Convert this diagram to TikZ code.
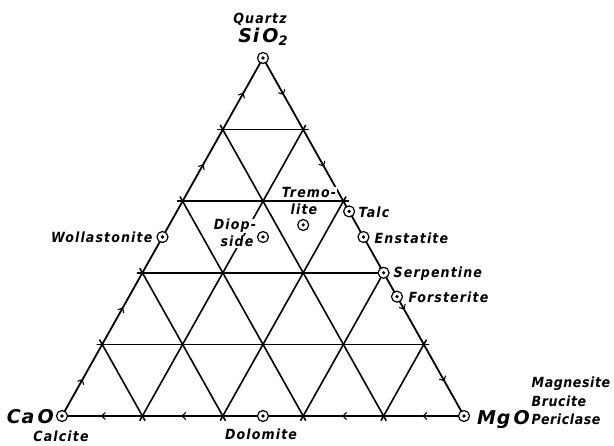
\documentclass[tikz,border=0pt]{standalone}
\usepackage{fontspec}
\setmainfont{DejaVu Sans}
\newfontfamily\labfont{DejaVu Sans Condensed Bold Oblique}[LetterSpace=8]
\newfontfamily\labfontb{DejaVu Sans Condensed Bold Oblique}[LetterSpace=4]
\newfontfamily\bigfont{DejaVu Sans Bold Oblique}[LetterSpace=4]
\usetikzlibrary{calc,decorations.markings}
\tikzset{
  gridline/.style={line width=1.6pt, line cap=round},
  sideline/.style={line width=1.8pt, line join=round},
  chev/.style={postaction={decorate, decoration={markings,
      mark=at position 0.5 with {\draw[line width=1.1pt] (-3.2pt,3.5pt) -- (0.6pt,0pt) -- (-3.2pt,-3.5pt);}}}},
  mineral/.style={circle, draw, line width=1.2pt, fill=white, minimum size=11pt, inner sep=0pt,
      label={[circle, fill=black, inner sep=0pt, minimum size=3.6pt]center:{}}},
  lab/.style={font=\labfont\fontsize{14}{16}\selectfont, inner sep=0.5pt, anchor=base west},
  labr/.style={font=\labfontb\fontsize{14}{16}\selectfont, inner sep=0.5pt, anchor=base west},
  big/.style={font=\bigfont\fontsize{19}{21}\selectfont, inner sep=0pt, anchor=base},
}
\begin{document}
\begin{tikzpicture}[x=1pt,y=-1pt]
\useasboundingbox (0,0) rectangle (614,446);
\coordinate (A) at (263,58);
\coordinate (C) at (62,416);
\coordinate (M) at (464,416);
\foreach \k in {1,...,4} {
  \coordinate (L\k) at ($(C)!{\k/5}!(A)$);
  \coordinate (R\k) at ($(M)!{\k/5}!(A)$);
  \coordinate (B\k) at ($(C)!{\k/5}!(M)$);
}
% grid
\foreach \k in {1,...,4} {
  \pgfmathtruncatemacro\j{5-\k}
  \draw[gridline] ($(L\k)!-5pt!(R\k)$) -- ($(R\k)!-5pt!(L\k)$);
  \draw[gridline] ($(L\k)!-5pt!(B\k)$) -- ($(B\k)!-5pt!(L\k)$);
  \draw[gridline] ($(R\k)!-5pt!(B\j)$) -- ($(B\j)!-5pt!(R\k)$);
}
% sides
\draw[sideline] (C) -- (A) -- (M) -- cycle;
% chevrons
\path[chev] (C) -- (L1);
\path[chev] (L1) -- (L2);
\path[chev] (L3) -- (L4);
\path[chev] (L4) -- (A);
\path[chev] (A) -- (R4);
\path[chev] (R4) -- (R3);
\path[chev] (R2) -- (R1);
\path[chev] (R1) -- (M);
\path[chev] (M) -- (B4);
\path[chev] (B4) -- (B3);
\path[chev] (B2) -- (B1);
\path[chev] (B1) -- (C);
% minerals
\node[mineral] (mqtz) at (A) {};
\node[mineral] (mcao) at (C) {};
\node[mineral] (mmgo) at (M) {};
\node[mineral] (mwol) at ($(C)!0.5!(A)$) {};
\node[mineral] (mdol) at ($(C)!0.5!(M)$) {};
\node[mineral] (mdio) at (263,237) {};
\node[mineral] (mtre) at (303.2,225) {};
\node[mineral] (mtal) at (349.1,211.4) {};
\node[mineral] (mens) at ($(M)!0.5!(A)$) {};
\node[mineral] (mser) at (R2) {};
\node[mineral] (mfor) at ($(M)!{1/3}!(A)$) {};
% labels
\node[lab, anchor=base] (tquartz) at (260,24) {Quartz};
\node[big] (tsio) at (263,43) {Si\,O\raisebox{-3pt}{\fontsize{13}{13}\selectfont 2}};
\node[lab, anchor=base east] (twol) at (153,243) {Wollastonite};
\node[lab, anchor=base, fill=white] (tdiop1) at (235,230) {Diop-};
\node[lab, anchor=base, fill=white] (tdiop2) at (237,247) {side};
\node[lab, anchor=base, fill=white] (ttrem1) at (309,198) {Tremo-};
\node[lab, anchor=base, fill=white] (ttrem2) at (304,215) {lite};
\node[lab] (ttalc) at (358,218) {Talc};
\node[lab] (tenst) at (374,244) {Enstatite};
\node[lab] (tserp) at (393,278) {Serpentine};
\node[lab] (tfors) at (408,303) {Forsterite};
\node[big, anchor=base east] (tcao) at (54,424) {Ca\,O};
\node[lab, anchor=base] (tcalc) at (61,442) {Calcite};
\node[lab, anchor=base] (tdol) at (261,440) {Dolomite};
\node[big, anchor=base west] (tmgo) at (477,425) {Mg\,O};
\node[labr] (tmag) at (531,388) {Magnesite};
\node[labr] (tbru) at (531,407) {Brucite};
\node[labr] (tper) at (531,425) {Periclase};
\end{tikzpicture}
\end{document}
